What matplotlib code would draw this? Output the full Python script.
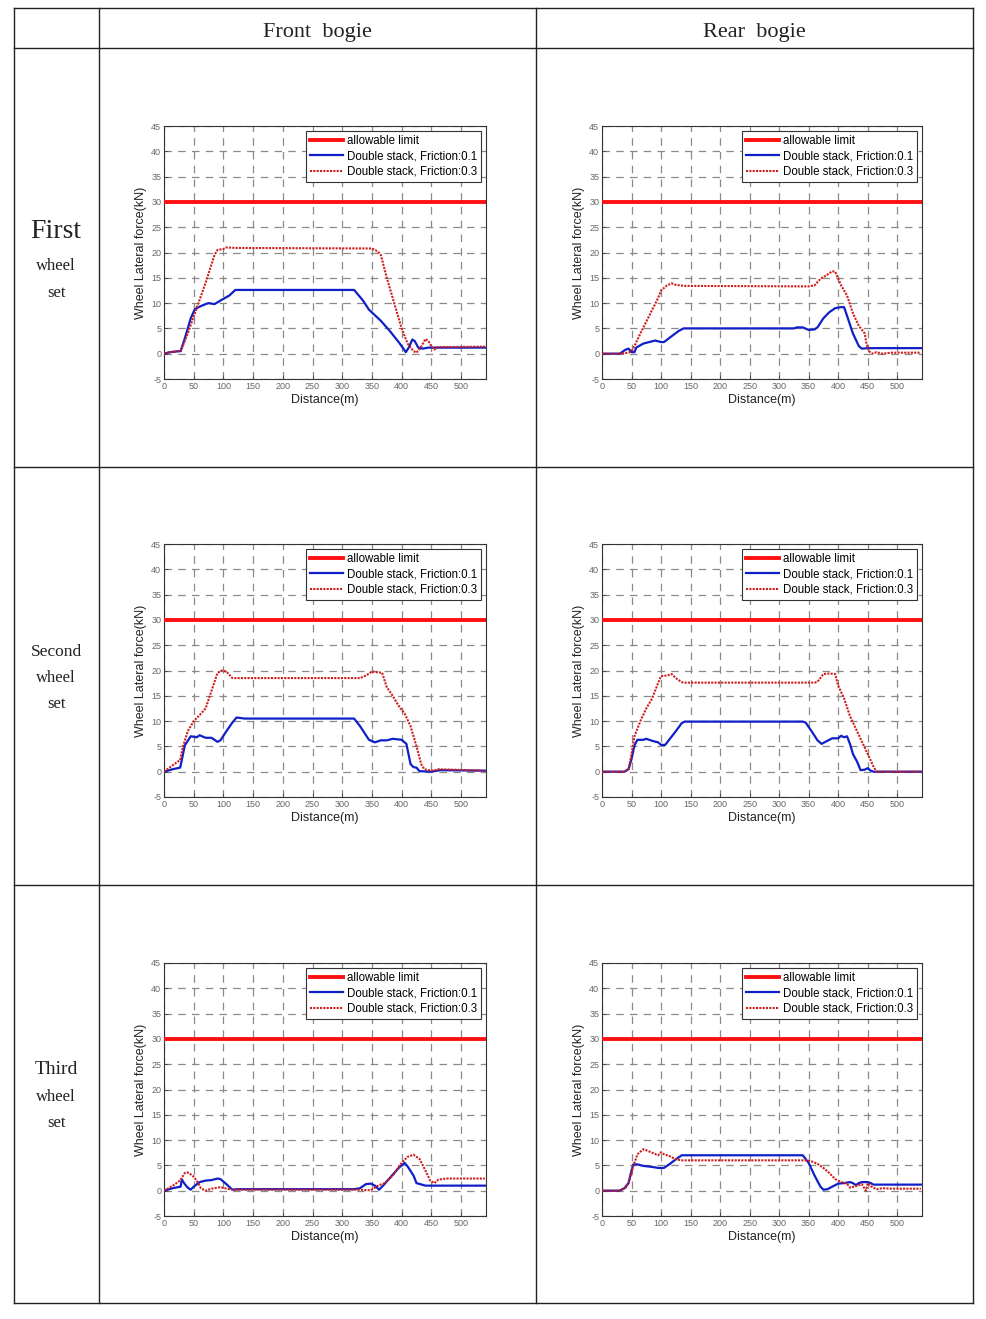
import numpy as np
import matplotlib.pyplot as plt
from matplotlib.lines import Line2D

plt.rcParams['axes.unicode_minus'] = False

# ---- data (distance in m, force in kN) ----
limit = 30.0

# First wheel set, front bogie
f1_d_01 = [0, 10, 25, 28, 35, 45, 52, 60, 70, 75, 85, 95, 110, 120, 320, 335, 345, 365, 380, 395, 403, 407, 412, 418, 422, 428, 435, 445, 460, 540]
f1_v_01 = [0, 0.3, 0.5, 0.5, 3, 7, 8.8, 9.3, 9.8, 10, 9.8, 10.5, 11.5, 12.6, 12.6, 10.5, 8.7, 6.5, 4.5, 2.3, 1, 0.3, 1.2, 2.8, 2.5, 1.2, 1, 1.2, 1.2, 1.2]
f1_d_03 = [0, 10, 25, 28, 40, 55, 70, 85, 90, 100, 105, 120, 340, 350, 360, 365, 375, 390, 400, 410, 420, 425, 432, 440, 445, 450, 455, 460, 540]
f1_v_03 = [0, 0.3, 0.5, 0.5, 4, 9, 14, 19.5, 20.5, 20.7, 21.0, 20.9, 20.8, 20.8, 20.2, 19.5, 15, 9, 5, 2, 0.5, 0.2, 1.2, 2.9, 2.5, 1.5, 0.8, 1.3, 1.4]

# First wheel set, rear bogie
r1_d_01 = [0, 30, 40, 45, 50, 55, 58, 70, 80, 90, 100, 105, 115, 130, 138, 325, 330, 340, 350, 360, 365, 375, 385, 395, 405, 410, 415, 425, 435, 440, 450, 540]
r1_v_01 = [0, 0, 0.8, 1, 0.3, 0.3, 1.2, 2, 2.3, 2.6, 2.3, 2.3, 3.2, 4.5, 5, 5, 5.2, 5.2, 4.7, 4.8, 5.2, 7, 8.2, 9, 9.2, 9.2, 7.5, 4, 1.5, 1, 1.1, 1.1]
r1_d_03 = [0, 30, 45, 50, 55, 65, 80, 95, 100, 110, 118, 125, 140, 350, 360, 370, 380, 390, 395, 405, 415, 425, 435, 445, 448, 452, 458, 465, 475, 490, 540]
r1_v_03 = [0, 0, 0.2, 0.5, 1.5, 4, 7.5, 11, 12.5, 13.5, 13.9, 13.6, 13.4, 13.3, 13.5, 14.8, 15.5, 16.3, 16.2, 13.5, 11.5, 8, 5.5, 4, 2, 0.5, 0, 0.3, 0, 0.2, 0.2]

# Second wheel set, front bogie
f2_d_01 = [0, 15, 27, 28, 35, 45, 55, 60, 70, 80, 90, 95, 105, 115, 122, 130, 135, 320, 330, 345, 355, 365, 375, 385, 400, 408, 415, 420, 425, 430, 450, 465, 540]
f2_v_01 = [0, 0.5, 0.8, 1.2, 5.2, 7, 6.8, 7.2, 6.7, 6.7, 5.9, 6.2, 8, 9.7, 10.7, 10.6, 10.5, 10.5, 9, 6.3, 5.8, 6.2, 6.2, 6.5, 6.3, 5.5, 1.5, 0.9, 0.8, 0.1, 0, 0.3, 0.2]
f2_d_03 = [0, 15, 27, 32, 40, 50, 60, 70, 80, 90, 97, 105, 115, 330, 340, 350, 360, 367, 375, 385, 395, 405, 415, 425, 433, 438, 445, 455, 460, 540]
f2_v_03 = [0, 1.3, 2.3, 5, 8, 10, 11.2, 12.5, 16, 19.5, 20, 19.8, 18.5, 18.5, 19, 19.8, 19.6, 19.6, 16.7, 15, 13, 11.5, 9, 5, 1.5, 0.5, 0.3, 0.2, 0.5, 0.2]

# Second wheel set, rear bogie
r2_d_01 = [0, 38, 45, 50, 55, 60, 70, 75, 85, 95, 100, 107, 115, 125, 135, 140, 340, 345, 355, 365, 372, 380, 390, 400, 405, 410, 415, 420, 425, 432, 438, 445, 450, 455, 460, 540]
r2_v_01 = [0, 0, 0.5, 2.5, 5.2, 6.3, 6.3, 6.5, 6.1, 5.8, 5.3, 5.3, 6.5, 8, 9.6, 9.9, 9.9, 9.7, 8, 6.2, 5.5, 6, 6.6, 6.6, 7.1, 6.8, 7, 5.5, 3.5, 2, 0.3, 0.4, 0.7, 0.2, 0, 0]
r2_d_03 = [0, 38, 45, 50, 55, 65, 75, 85, 95, 100, 110, 118, 125, 135, 140, 360, 365, 375, 385, 395, 400, 410, 420, 430, 440, 450, 460, 465, 540]
r2_v_03 = [0, 0, 0.5, 3.5, 7, 10, 12.5, 14.5, 17.5, 18.9, 19, 19.3, 18.5, 17.7, 17.6, 17.6, 17.8, 19.3, 19.4, 19.3, 17, 14.5, 11, 8.5, 6, 3.5, 1, 0, 0]

# Third wheel set, front bogie
f3_d_01 = [0, 15, 28, 30, 35, 40, 45, 50, 60, 70, 80, 90, 95, 105, 115, 125, 320, 330, 340, 348, 355, 362, 368, 380, 395, 405, 410, 420, 425, 440, 540]
f3_v_01 = [0, 0.5, 0.8, 2.2, 1.3, 0.6, 0.2, 0.8, 1.7, 2, 2.1, 2.4, 2.3, 1.3, 0.2, 0.3, 0.3, 0.5, 1.3, 1.4, 1, 0.2, 0.9, 2.5, 4.5, 5.5, 4.8, 3, 1.5, 1, 1]
f3_d_03 = [0, 15, 27, 35, 40, 48, 55, 62, 70, 80, 95, 110, 120, 330, 340, 348, 355, 362, 372, 385, 400, 410, 420, 430, 440, 448, 455, 462, 475, 540]
f3_v_03 = [0, 1, 2, 3.5, 3.6, 3, 2, 0.5, 0, 0.4, 0.7, 0.3, 0.2, 0.2, 0.1, 0.1, 0.6, 1.1, 1.5, 3, 5.5, 6.7, 7.1, 6.3, 4, 2, 1.5, 2.2, 2.4, 2.4]

# Third wheel set, rear bogie
r3_d_01 = [0, 30, 38, 45, 50, 53, 60, 70, 85, 95, 105, 115, 125, 135, 340, 350, 360, 370, 375, 382, 390, 400, 410, 420, 425, 430, 435, 440, 450, 455, 460, 540]
r3_v_01 = [0, 0, 0.5, 1.5, 4, 5.2, 5.2, 4.9, 4.7, 4.5, 4.5, 5.3, 6.2, 7, 7, 5.5, 3, 0.8, 0.2, 0.3, 0.8, 1.4, 1.5, 1.7, 1.5, 1.1, 1.5, 1.7, 1.7, 1.5, 1.2, 1.2]
r3_d_03 = [0, 30, 40, 45, 52, 60, 70, 75, 85, 95, 100, 105, 115, 125, 135, 345, 355, 365, 375, 385, 395, 405, 415, 420, 430, 440, 447, 450, 455, 465, 475, 490, 540]
r3_v_03 = [0, 0, 0.6, 1.5, 4.5, 7.2, 8.2, 8, 7.5, 7, 7.6, 7.2, 6.8, 6.2, 6, 6, 5.8, 5.3, 4.5, 3.5, 2.3, 1.7, 1.4, 0.6, 0.9, 1.3, 0, 1.5, 0.9, 0.3, 0.5, 0.4, 0.4]

row_titles = [("First", "wheel", "set"), ("Second", "wheel", "set"), ("Third", "wheel", "set")]
col_titles = ["Front  bogie", "Rear  bogie"]

panels = [
    [(f1_d_01, f1_v_01, f1_d_03, f1_v_03), (r1_d_01, r1_v_01, r1_d_03, r1_v_03)],
    [(f2_d_01, f2_v_01, f2_d_03, f2_v_03), (r2_d_01, r2_v_01, r2_d_03, r2_v_03)],
    [(f3_d_01, f3_v_01, f3_d_03, f3_v_03), (r3_d_01, r3_v_01, r3_d_03, r3_v_03)],
]

W, H = 986, 1319
fig = plt.figure(figsize=(W / 100, H / 100), dpi=100)
fig.patch.set_facecolor("white")

# table frame
def hline(y, x0, x1, lw=1.0):
    fig.add_artist(Line2D([x0 / W, x1 / W], [1 - y / H, 1 - y / H], color="#222222", lw=lw))

def vline(x, y0, y1, lw=1.0):
    fig.add_artist(Line2D([x / W, x / W], [1 - y0 / H, 1 - y1 / H], color="#222222", lw=lw))

for y in [8, 48, 467, 885, 1303]:
    hline(y, 14, 973)
for x in [14, 99, 536, 973]:
    vline(x, 8, 1303)

serif = ["Liberation Serif", "DejaVu Serif"]
sans = ["Liberation Sans", "DejaVu Sans"]

fig.text(317 / W, 1 - 32 / H, col_titles[0], ha="center", va="center", fontsize=16, family=serif, color="#222222")
fig.text(754 / W, 1 - 32 / H, col_titles[1], ha="center", va="center", fontsize=16, family=serif, color="#222222")

label_y = [(232, 266, 293), (652, 678, 704), (1069, 1097, 1123)]
label_size = [(20, 12, 12), (12.5, 12, 12), (14, 12, 12)]
for (words, ys, sz) in zip(row_titles, label_y, label_size):
    for w, y, s in zip(words, ys, sz):
        fig.text(56 / W, 1 - y / H, w, ha="center", va="center", fontsize=s, family=serif, color="#222222")

col_left = [164, 602]
col_width = [322, 320]
row_top = [126, 544, 963]
ax_h = 253

for r in range(3):
    for c in range(2):
        d1, v1, d3, v3 = panels[r][c]
        ax = fig.add_axes([col_left[c] / W, 1 - (row_top[r] + ax_h) / H, col_width[c] / W, ax_h / H])
        ax.axhline(limit, color="#ff1010", lw=2.8, label="allowable limit", zorder=3)
        ax.plot(d1, v1, color="#1020c8", lw=1.6, label="Double stack, Friction:0.1", zorder=4)
        ax.plot(d3, v3, color="#d01c1c", lw=1.5, linestyle=(0, (1.0, 0.6)), label="Double stack, Friction:0.3", zorder=5)
        ax.set_xlim(0, 542)
        ax.set_ylim(-5, 45)
        ax.set_xticks(np.arange(0, 501, 50))
        ax.set_yticks(np.arange(-5, 46, 5))
        ax.grid(True, color="#8a8a8a", linestyle=(0, (6, 5)), lw=0.9)
        ax.tick_params(direction="in", length=3, width=0.6, labelsize=6.5, labelcolor="#666666", color="#444444", pad=2)
        for lab in ax.get_xticklabels() + ax.get_yticklabels():
            lab.set_family(sans)
        for sp in ax.spines.values():
            sp.set_color("#333333")
            sp.set_linewidth(0.8)
        ax.set_xlabel("Distance(m)", fontsize=9, family=sans, color="#222222", labelpad=2)
        ax.set_ylabel("Wheel Lateral force(kN)", fontsize=9, family=sans, color="#222222", labelpad=3)
        leg = ax.legend(loc="upper right", prop={"family": sans, "size": 8.3},
                        handlelength=2.8, handletextpad=0.4, labelspacing=0.3,
                        borderpad=0.35, borderaxespad=0.4, fancybox=False, framealpha=1)
        leg.get_frame().set_edgecolor("#333333")
        leg.get_frame().set_linewidth(0.8)

fig.savefig("out.png", dpi=100, facecolor="white")
